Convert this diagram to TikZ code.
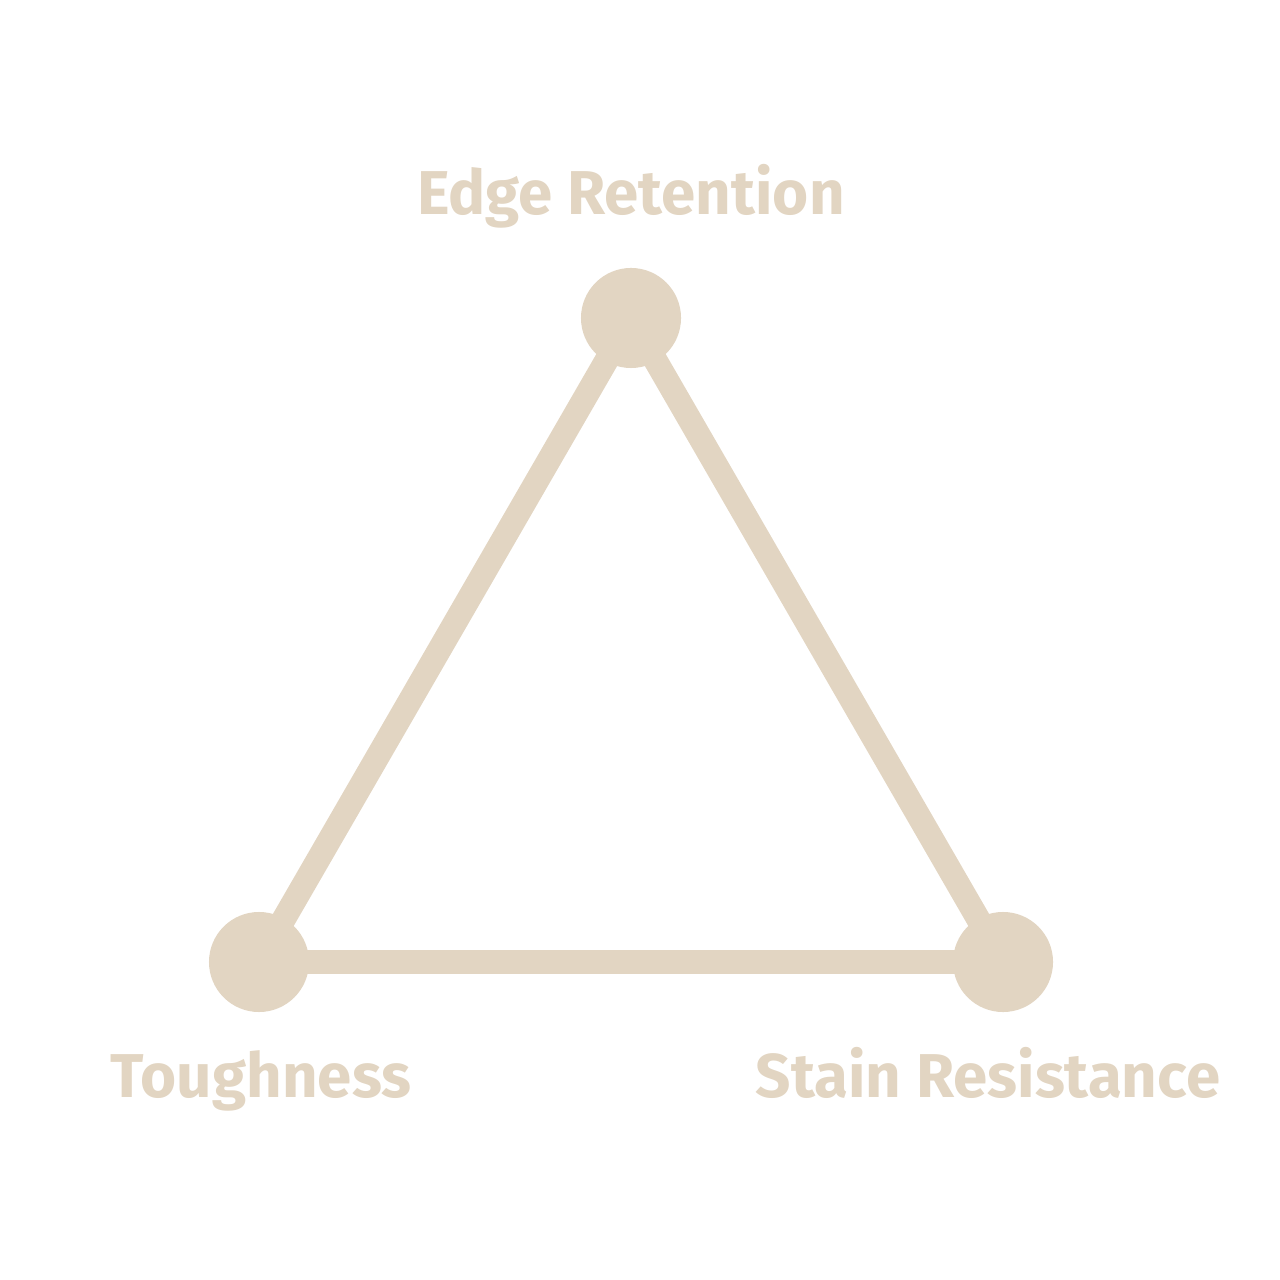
\documentclass[tikz,border=0pt]{standalone}
\usepackage{fontspec}
\setmainfont{Fira Sans}
\usetikzlibrary{backgrounds}
\definecolor{sand}{HTML}{E2D5C2}
\begin{document}
\begin{tikzpicture}[x=0.01cm,y=-0.01cm,
  vtx/.style={circle,fill=sand,minimum size=1cm,inner sep=0pt,outer sep=0pt},
  edge/.style={draw=sand,line width=0.24cm},
  lbl/.style={text=sand,font=\fontsize{17.6pt}{20pt}\selectfont\bfseries,anchor=base}]
\useasboundingbox (0,0) rectangle (1280,1280);
\node[vtx] (top) at (631,318) {};
\node[vtx] (bl) at (259,962) {};
\node[vtx] (br) at (1003,962) {};
\begin{pgfonlayer}{background}
\draw[edge] (top.center) -- (bl.center);
\draw[edge] (top.center) -- (br.center);
\draw[edge] (bl.center) -- (br.center);
\end{pgfonlayer}
\node[lbl] (ltop) at (631,215) {Edge Retention};
\node[lbl] (lbl) at (261,1097) {Toughness};
\node[lbl] (lbr) at (988,1097) {Stain Resistance};
\end{tikzpicture}
\end{document}
